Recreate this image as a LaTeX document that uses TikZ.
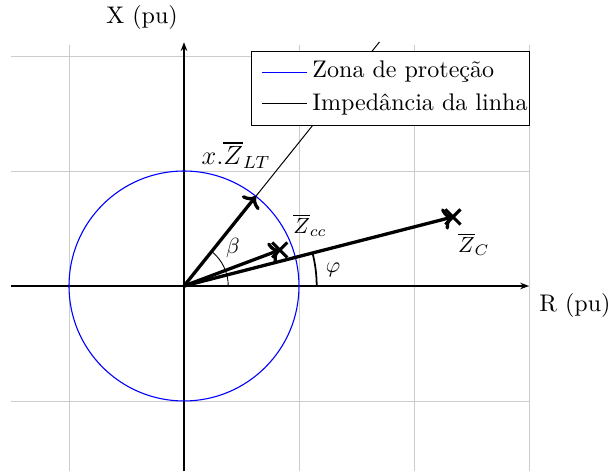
\documentclass[tikz,border=0pt]{standalone}
\usepackage{tikz}
\usetikzlibrary{arrows.meta,positioning,calc,shapes.misc}
\usepackage{amsmath}
\definecolor{gridgray}{HTML}{CCCCCC}
\definecolor{zoneblue}{HTML}{0000FF}
\tikzset{
  gridln/.style={draw=gridgray,line width=0.4pt,step=1.84cm},
  axarr/.style={-{Stealth[length=4pt,width=3pt]},line width=0.5pt,color=black},
  vec/.style={-{To[length=4.5pt,width=10pt]},line width=1.5pt,color=black},
  xmark/.style={cross out,draw=black,line width=1.4pt,minimum size=5.5pt,
                inner sep=0pt},
  zone/.style={draw=zoneblue,line width=0.5pt},
  impl/.style={draw=black,line width=0.45pt},
  angarc/.style={draw=black,line width=#1},
  angarc/.default=0.4pt,
  lbl/.style={inner sep=0pt,font=\fontsize{10.95pt}{13.6pt}\selectfont},
  mlbl/.style={inner sep=0pt,font=\fontsize{10pt}{12pt}\selectfont},
  legbox/.style={rectangle,draw=black,fill=white,line width=0.5pt,
                 inner sep=0pt},
}

\begin{document}
\begin{tikzpicture}[x=1.84cm,y=1.84cm]
  \useasboundingbox (-1.6,-1.609) rectangle (3.696,2.487);

  % grid and axes
  \draw[gridln] (-1.5,-1.61) grid (3,2.1);
  \coordinate (O)  at (0,0);
  \coordinate (xl) at (-1.5,0);
  \coordinate (xr) at (3,0);
  \coordinate (yb) at (0,-1.61);
  \coordinate (yt) at (0,2.12);
  \draw[axarr] (xl) -- (xr);
  \draw[axarr] (yb) -- (yt);
  \node[lbl,anchor=north west] (rlab) at ($(xr)+(0.087,-0.061)$) {R (pu)};
  \node[lbl,anchor=south east] (xlab) at ($(yt)+(-0.05,0.105)$) {X (pu)};

  % zone and line impedance
  \draw[zone] (O) circle (1);
  \coordinate (ltend) at (51.3:2.72);
  \draw[impl] (O) -- (ltend);
  \draw[angarc] (0.385,0) arc (0:51.3:0.385);
  \draw[angarc=0.8pt] (1.154,0) arc (0:14.4:1.154);

  % phasors
  \coordinate (zlt) at (51.3:1);
  \coordinate (zcc) at (20.6:0.89);
  \coordinate (zc)  at (14.4:2.415);
  \draw[vec] (O) -- (zlt);
  \draw[vec] (O) -- (zcc);
  \draw[vec] (O) -- (zc);
  \node[xmark] (mcc) at (zcc) {};
  \node[xmark] (mc)  at (zc) {};

  \node[lbl,font=\large] (llt) at (0.452,1.139) {$x.\overline{Z}_{LT}$};
  \node[mlbl] (lcc)   at (1.096,0.53)  {$\overline{Z}_{cc}$};
  \node[mlbl] (lc)    at (2.52,0.365)  {$\overline{Z}_{C}$};
  \node[mlbl] (lphi)  at (1.296,0.139) {$\varphi$};
  \node[mlbl] (lbeta) at (0.426,0.33)  {$\beta$};

  % legend
  \node[legbox,minimum width=4.46cm,minimum height=1.17cm] (leg)
    at (1.796,1.7175) {};
  \coordinate (la1) at (0.678,1.857);
  \coordinate (lb1) at (1.07,1.857);
  \coordinate (la2) at (0.678,1.587);
  \coordinate (lb2) at (1.07,1.587);
  \draw[zone] (la1) -- (lb1);
  \draw[impl] (la2) -- (lb2);
  \node[lbl,anchor=base west] (t1) at (1.113,1.817) {Zona de proteção};
  \node[lbl,anchor=base west] (t2) at (1.113,1.524) {Impedância da linha};
\end{tikzpicture}
\end{document}
